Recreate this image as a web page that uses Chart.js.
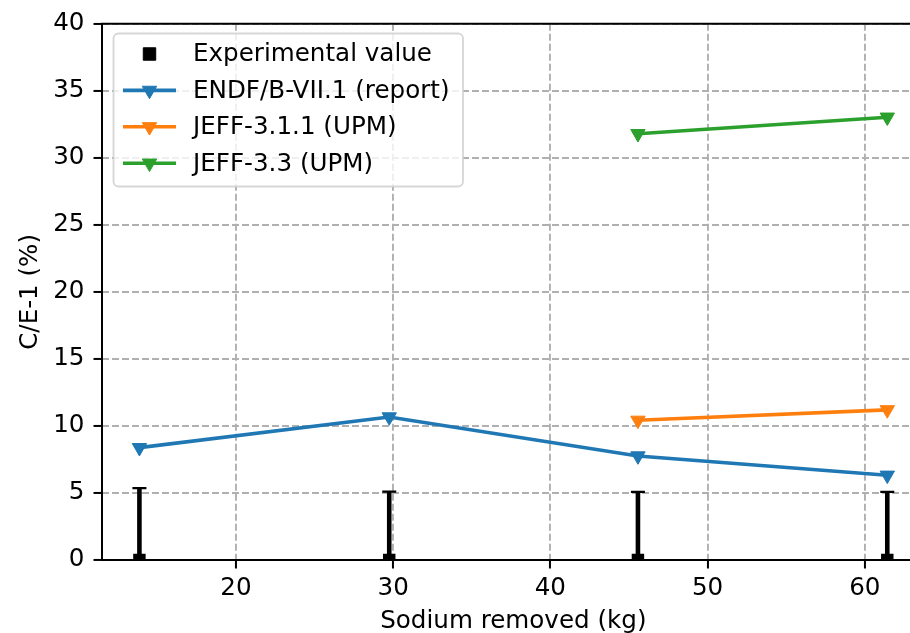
<!DOCTYPE html>
<html>
<head>
<meta charset="utf-8">
<script src="https://cdn.jsdelivr.net/npm/chart.js@4/dist/chart.umd.min.js"></script>
<style>
  html, body { margin: 0; padding: 0; background: #fff; overflow: hidden; }
  canvas { display: block; }
</style>
</head>
<body>
<canvas id="chart" width="934" height="633"></canvas>
<script>
// values
const sodium = [13.86, 29.75, 45.57, 61.43];
const expValue = [0, 0, 0, 0];
const expError = [5.36, 5.1, 5.08, 5.08];
const endf71 = [8.38, 10.67, 7.76, 6.32];
const jeff311 = [null, null, 10.42, 11.2];
const jeff33 = [null, null, 31.8, 33.03];
const yTicks = [0, 5, 10, 15, 20, 25, 30, 35, 40];
const xTicks = [20, 30, 40, 50, 60];

const FONT = 'DejaVu Sans';
const FS = 24.6;

// pair x with y, skipping missing values
function pts(ys) {
  const out = [];
  ys.forEach((y, i) => { if (y !== null) out.push({x: sodium[i], y}); });
  return out;
}

function lineSet(label, color, ys) {
  return {
    label, data: pts(ys),
    borderColor: color, backgroundColor: color,
    borderWidth: 3.6, pointStyle: 'triangle', rotation: 180,
    pointRadius: 8.3, pointBorderWidth: 1, pointBorderColor: color,
    tension: 0, clip: false
  };
}

// error bars of the experimental points, clipped to the axes
const errorBars = {
  id: 'errorBars',
  beforeDatasetsDraw(chart) {
    const {ctx, chartArea: a, scales: {x, y}} = chart;
    ctx.save();
    ctx.beginPath();
    ctx.rect(a.left, a.top, a.right - a.left, a.bottom - a.top);
    ctx.clip();
    ctx.strokeStyle = '#000';
    sodium.forEach((s, i) => {
      const px = x.getPixelForValue(s);
      const top = y.getPixelForValue(expValue[i] + expError[i]);
      const bot = y.getPixelForValue(expValue[i] - expError[i]);
      ctx.lineWidth = 4.6;
      ctx.beginPath(); ctx.moveTo(px, top); ctx.lineTo(px, bot); ctx.stroke();
      ctx.lineWidth = 2.4;
      ctx.beginPath(); ctx.moveTo(px - 7, top); ctx.lineTo(px + 7, top); ctx.stroke();
      ctx.beginPath(); ctx.moveTo(px - 7, bot); ctx.lineTo(px + 7, bot); ctx.stroke();
    });
    ctx.restore();
  }
};

// axes frame and matplotlib-like legend
const frameLegend = {
  id: 'frameLegend',
  afterDatasetsDraw(chart) {
    const {ctx, chartArea: a} = chart;
    ctx.save();
    ctx.strokeStyle = '#000';
    ctx.lineWidth = 2;
    ctx.strokeRect(a.left, a.top, a.right - a.left, a.bottom - a.top);

    const bx = 113.5, by = 33.5, bw = 349.5, bh = 153, r = 5;
    ctx.beginPath();
    ctx.roundRect(bx, by, bw, bh, r);
    ctx.fillStyle = 'rgba(255,255,255,0.8)';
    ctx.fill();
    ctx.strokeStyle = 'rgba(204,204,204,0.8)';
    ctx.lineWidth = 1.8;
    ctx.stroke();

    const rowY0 = 54, step = 36.4;
    ctx.font = FS + 'px "' + FONT + '"';
    ctx.textBaseline = 'middle';
    ctx.textAlign = 'left';
    chart.data.datasets.forEach((ds, i) => {
      const yy = rowY0 + step * i;
      const cx = 149.5;
      if (ds.showLine !== false) {
        ctx.strokeStyle = ds.borderColor;
        ctx.lineWidth = ds.borderWidth;
        ctx.beginPath(); ctx.moveTo(123, yy); ctx.lineTo(176, yy); ctx.stroke();
      }
      ctx.fillStyle = ds.backgroundColor;
      ctx.strokeStyle = ds.backgroundColor;
      ctx.lineWidth = 1;
      Chart.helpers.drawPoint(ctx, {pointStyle: ds.pointStyle, rotation: ds.rotation || 0, radius: ds.pointRadius, borderWidth: 1}, cx, yy);
      ctx.fillStyle = '#000';
      ctx.fillText(ds.label, 193, yy + 1);
    });
    ctx.restore();
  }
};

const tickFont = {family: FONT, size: FS};

new Chart(document.getElementById('chart'), {
  type: 'line',
  data: {
    datasets: [
      {
        label: 'Experimental value', data: pts(expValue), showLine: false,
        borderColor: '#000', backgroundColor: '#000', pointStyle: 'rect',
        pointRadius: 8.8, pointBorderWidth: 0, clip: 0
      },
      lineSet('ENDF/B-VII.1 (report)', '#1f77b4', endf71),
      lineSet('JEFF-3.1.1 (UPM)', '#ff7f0e', jeff311),
      lineSet('JEFF-3.3 (UPM)', '#2ca02c', jeff33)
    ]
  },
  options: {
    responsive: false,
    animation: false,
    devicePixelRatio: 1,
    layout: {padding: {top: 22, right: 2, left: 0, bottom: 0}},
    plugins: {legend: {display: false}, tooltip: {enabled: false}},
    scales: {
      x: {
        type: 'linear', min: 11.48, max: 63.81,
        afterFit: s => { s.height = 73; },
        afterBuildTicks: s => { s.ticks = xTicks.map(v => ({value: v})); },
        ticks: {font: tickFont, color: '#000', padding: 5, includeBounds: false, maxRotation: 0},
        grid: {color: '#b0b0b0', lineWidth: 1.9, borderDash: [7, 3], tickLength: 8.5,
               tickColor: '#000', tickWidth: 2, tickBorderDash: []},
        border: {display: false, dash: [7, 3]},
        title: {display: true, text: 'Sodium removed (kg)', color: '#000',
                font: {family: FONT, size: FS, lineHeight: 0.9}, padding: {top: 0, bottom: 0}}
      },
      y: {
        type: 'linear', min: 0, max: 40,
        afterFit: s => { s.width = 102; },
        afterBuildTicks: s => { s.ticks = yTicks.map(v => ({value: v})); },
        ticks: {font: tickFont, color: '#000', padding: 9},
        grid: {color: '#b0b0b0', lineWidth: 1.9, borderDash: [7, 3], tickLength: 8.5,
               tickColor: '#000', tickWidth: 2, tickBorderDash: []},
        border: {display: false, dash: [7, 3]},
        title: {display: true, text: 'C/E-1 (%)', color: '#000',
                font: {family: FONT, size: FS, lineHeight: 1.2}, padding: {top: 16, bottom: 0}}
      }
    }
  },
  plugins: [errorBars, frameLegend]
});
</script>
</body>
</html>
